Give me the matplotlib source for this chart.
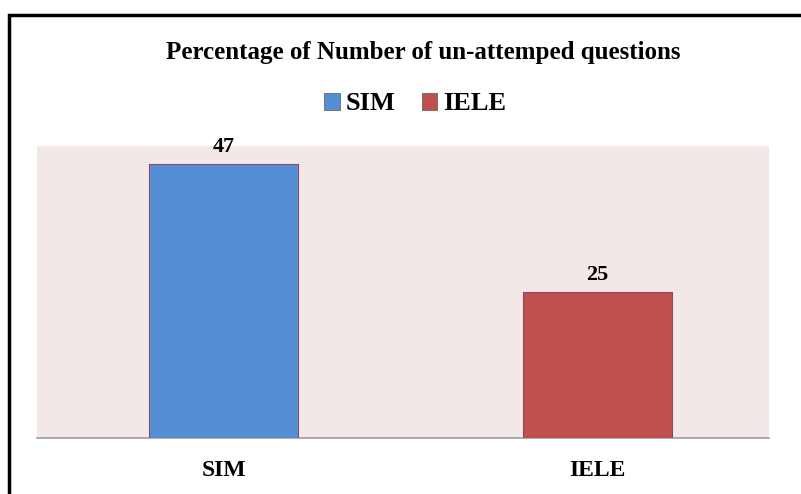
import matplotlib.pyplot as plt
from matplotlib.patches import Rectangle, Patch

categories = ['SIM', 'IELE']
values = [47, 25]
colors = ['#558ed5', '#c0504d']

W, H = 801, 494
fig = plt.figure(figsize=(W / 100, H / 100), dpi=100)
plt.rcParams['font.family'] = ['Liberation Serif', 'DejaVu Serif']

# plot area in pixels: x 37-769, y 146-438
ax = fig.add_axes([37 / W, 1 - 438 / H, (769 - 37) / W, (438 - 146) / H])
ax.set_facecolor('#f3e8e8')
bars = ax.bar(range(len(categories)), values, width=0.4, color=colors,
              edgecolor='#8a4a6a', linewidth=0.8, zorder=3)
ax.set_xlim(-0.5, 1.46)
ax.set_ylim(0, 50)
ax.set_yticks([])
ax.set_xticks(range(len(categories)))
ax.set_xticklabels(categories, fontsize=17, fontweight='bold')
ax.tick_params(axis='x', length=0, pad=16)
for s in ['top', 'right', 'left']:
    ax.spines[s].set_visible(False)
ax.spines['bottom'].set_color('#a0a0a0')
ax.spines['bottom'].set_linewidth(1.2)

for b, v in zip(bars, values):
    ax.text(b.get_x() + b.get_width() / 2, v + 1.2, str(v), ha='center', va='bottom',
            fontsize=16, fontweight='bold')

fig.text(0.528, 1 - 53 / H, 'Percentage of Number of un-attemped questions',
         ha='center', va='center', fontsize=18, fontweight='bold')

handles = [Patch(facecolor=c, edgecolor='#555555', linewidth=0.5) for c in colors]
fig.legend(handles, categories, loc='center', bbox_to_anchor=(0.518, 1 - 104 / H),
           ncol=2, frameon=False, prop={'size': 19, 'weight': 'bold'},
           handlelength=0.6, handleheight=0.6, handletextpad=0.2, columnspacing=1.0)

# outer frame (right and bottom run off the image)
fig.patches.append(Rectangle((9 / W, -0.1), 1.2, 1 - 15 / H + 0.1, transform=fig.transFigure,
                             fill=False, edgecolor='black', linewidth=2.5))

fig.savefig('out.png', dpi=100)
